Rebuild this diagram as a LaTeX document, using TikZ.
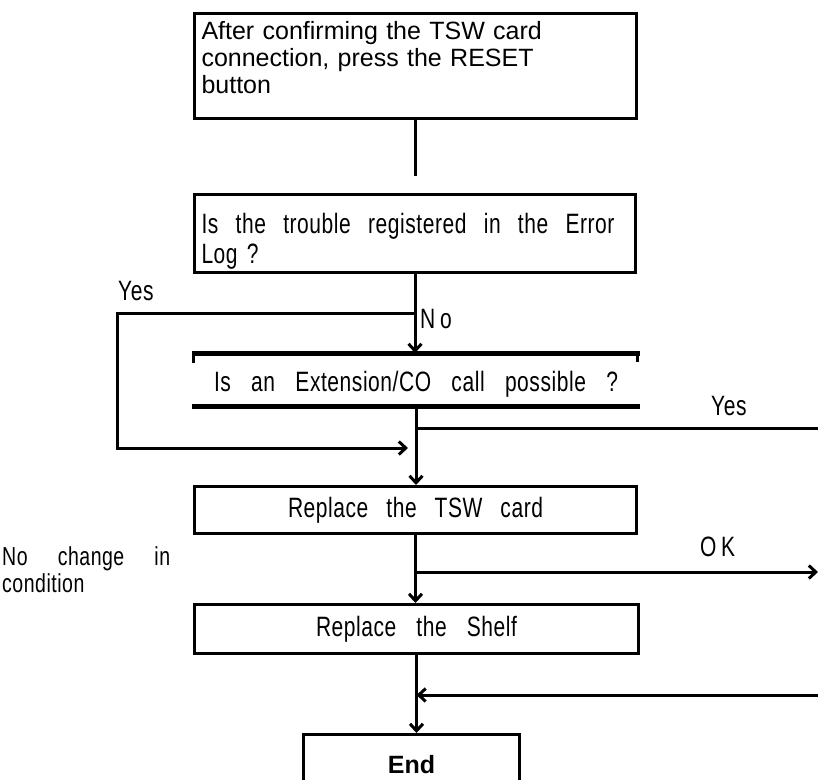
\documentclass[tikz,border=0pt]{standalone}
\usepackage{fontspec}
\usetikzlibrary{arrows.meta}
\setmainfont{Liberation Sans}
\newfontfamily\narrowfont[FakeStretch=0.75,LetterSpace=2]{Liberation Sans}
\newcommand{\FA}{\fontsize{25}{27}\selectfont}
\newcommand{\FN}{\narrowfont\fontsize{28}{30}\selectfont}
\newcommand{\FS}{\narrowfont\fontsize{26}{27}\selectfont}
\newcommand{\FE}{\fontsize{25}{28}\selectfont\bfseries}

\begin{document}
\begin{tikzpicture}[x=1pt,y=-1pt]
\tikzstyle{caja}=[draw,line width=3pt,inner sep=0pt,anchor=north west]
\tikzstyle{texto}=[draw=none,fill=none,inner sep=0pt,anchor=base west,font=\FN]
\tikzstyle{linea}=[line width=3pt]
\tikzstyle{flecha}=[line width=3pt,-{Straight Barb[length=7pt,width=13pt]}]

\useasboundingbox (0,0) rectangle (818,779);
\clip (0,0) rectangle (818,779);

% boxes
\node[caja,minimum width=442pt,minimum height=105pt,text width=428pt,align=left,
      font=\FA,text height=20pt,text depth=73pt] (reset) at (193,12)
      {After confirming the TSW card\\connection, press the RESET\\button};
\node[caja,minimum width=441pt,minimum height=78pt,text width=427pt,align=left,
      font=\FN,text height=37pt,text depth=37pt] (errlog) at (193,193)
      {\makebox[413pt]{Is\hfill the\hfill trouble\hfill registered\hfill in\hfill the\hfill Error}\\Log ?};
\node[caja,draw=none,minimum width=445pt,minimum height=50pt,font=\FN,
      text height=29pt,text depth=5pt] (extco) at (192,353)
      {\makebox[404pt][s]{Is an Extension/CO call possible ?}};
\node[caja,minimum width=442pt,minimum height=47pt,font=\FN] (tsw) at (193,485)
      {\makebox[255pt][s]{Replace the TSW card}};
\node[caja,minimum width=444pt,minimum height=49pt,font=\FN] (shelf) at (193,603)
      {\makebox[201pt][s]{Replace the Shelf}};
\node[caja,minimum width=216pt,minimum height=60pt,font=\FE] (fin) at (302,733) {End};

% open box of the call question
\draw[line width=5pt] (extco.north west) -- (extco.north east);
\draw[line width=5pt] (extco.south west) -- (extco.south east);
\draw[line width=3pt] ([xshift=1pt]extco.north west) -- ++(0,10);
\draw[line width=3pt] ([xshift=-3pt]extco.north east) -- ++(0,9);

% ends of the branches
\coordinate (yesL) at (117,313);
\coordinate (yesin) at (408,448);
\coordinate (yesR) at (818,428);
\coordinate (okR) at (818,572);
\coordinate (backR) at (818,695);

% connectors
\draw[linea] (reset.south) -- ++(0,56);
\draw[flecha] (errlog.south) -- (errlog.south |- extco.north);
\draw[flecha] (errlog.south |- yesL) -- (yesL) |- (yesin);
\draw[flecha] (extco.south) -- (extco.south |- tsw.north);
\draw[linea] (extco.south |- yesR) -- (yesR);
\draw[flecha] (tsw.south) -- (tsw.south |- shelf.north);
\draw[flecha] (tsw.south |- okR) -- (okR);
\draw[flecha] (shelf.south) -- (shelf.south |- fin.north);
\draw[flecha] (backR) -- (shelf.south |- backR);

% labels
\node[texto] (yesleft) at (118,300) {Yes};
\node[texto] (no) at (420,328) {N\,o};
\node[texto] (yesright) at (711,415) {Yes};
\node[texto] (ok) at (700,556) {O\,K};
\node[texto,anchor=north west,align=left,font=\FS]
      (nochange) at (2,546) {\makebox[168pt][s]{No change in}\\condition};
\end{tikzpicture}
\end{document}
